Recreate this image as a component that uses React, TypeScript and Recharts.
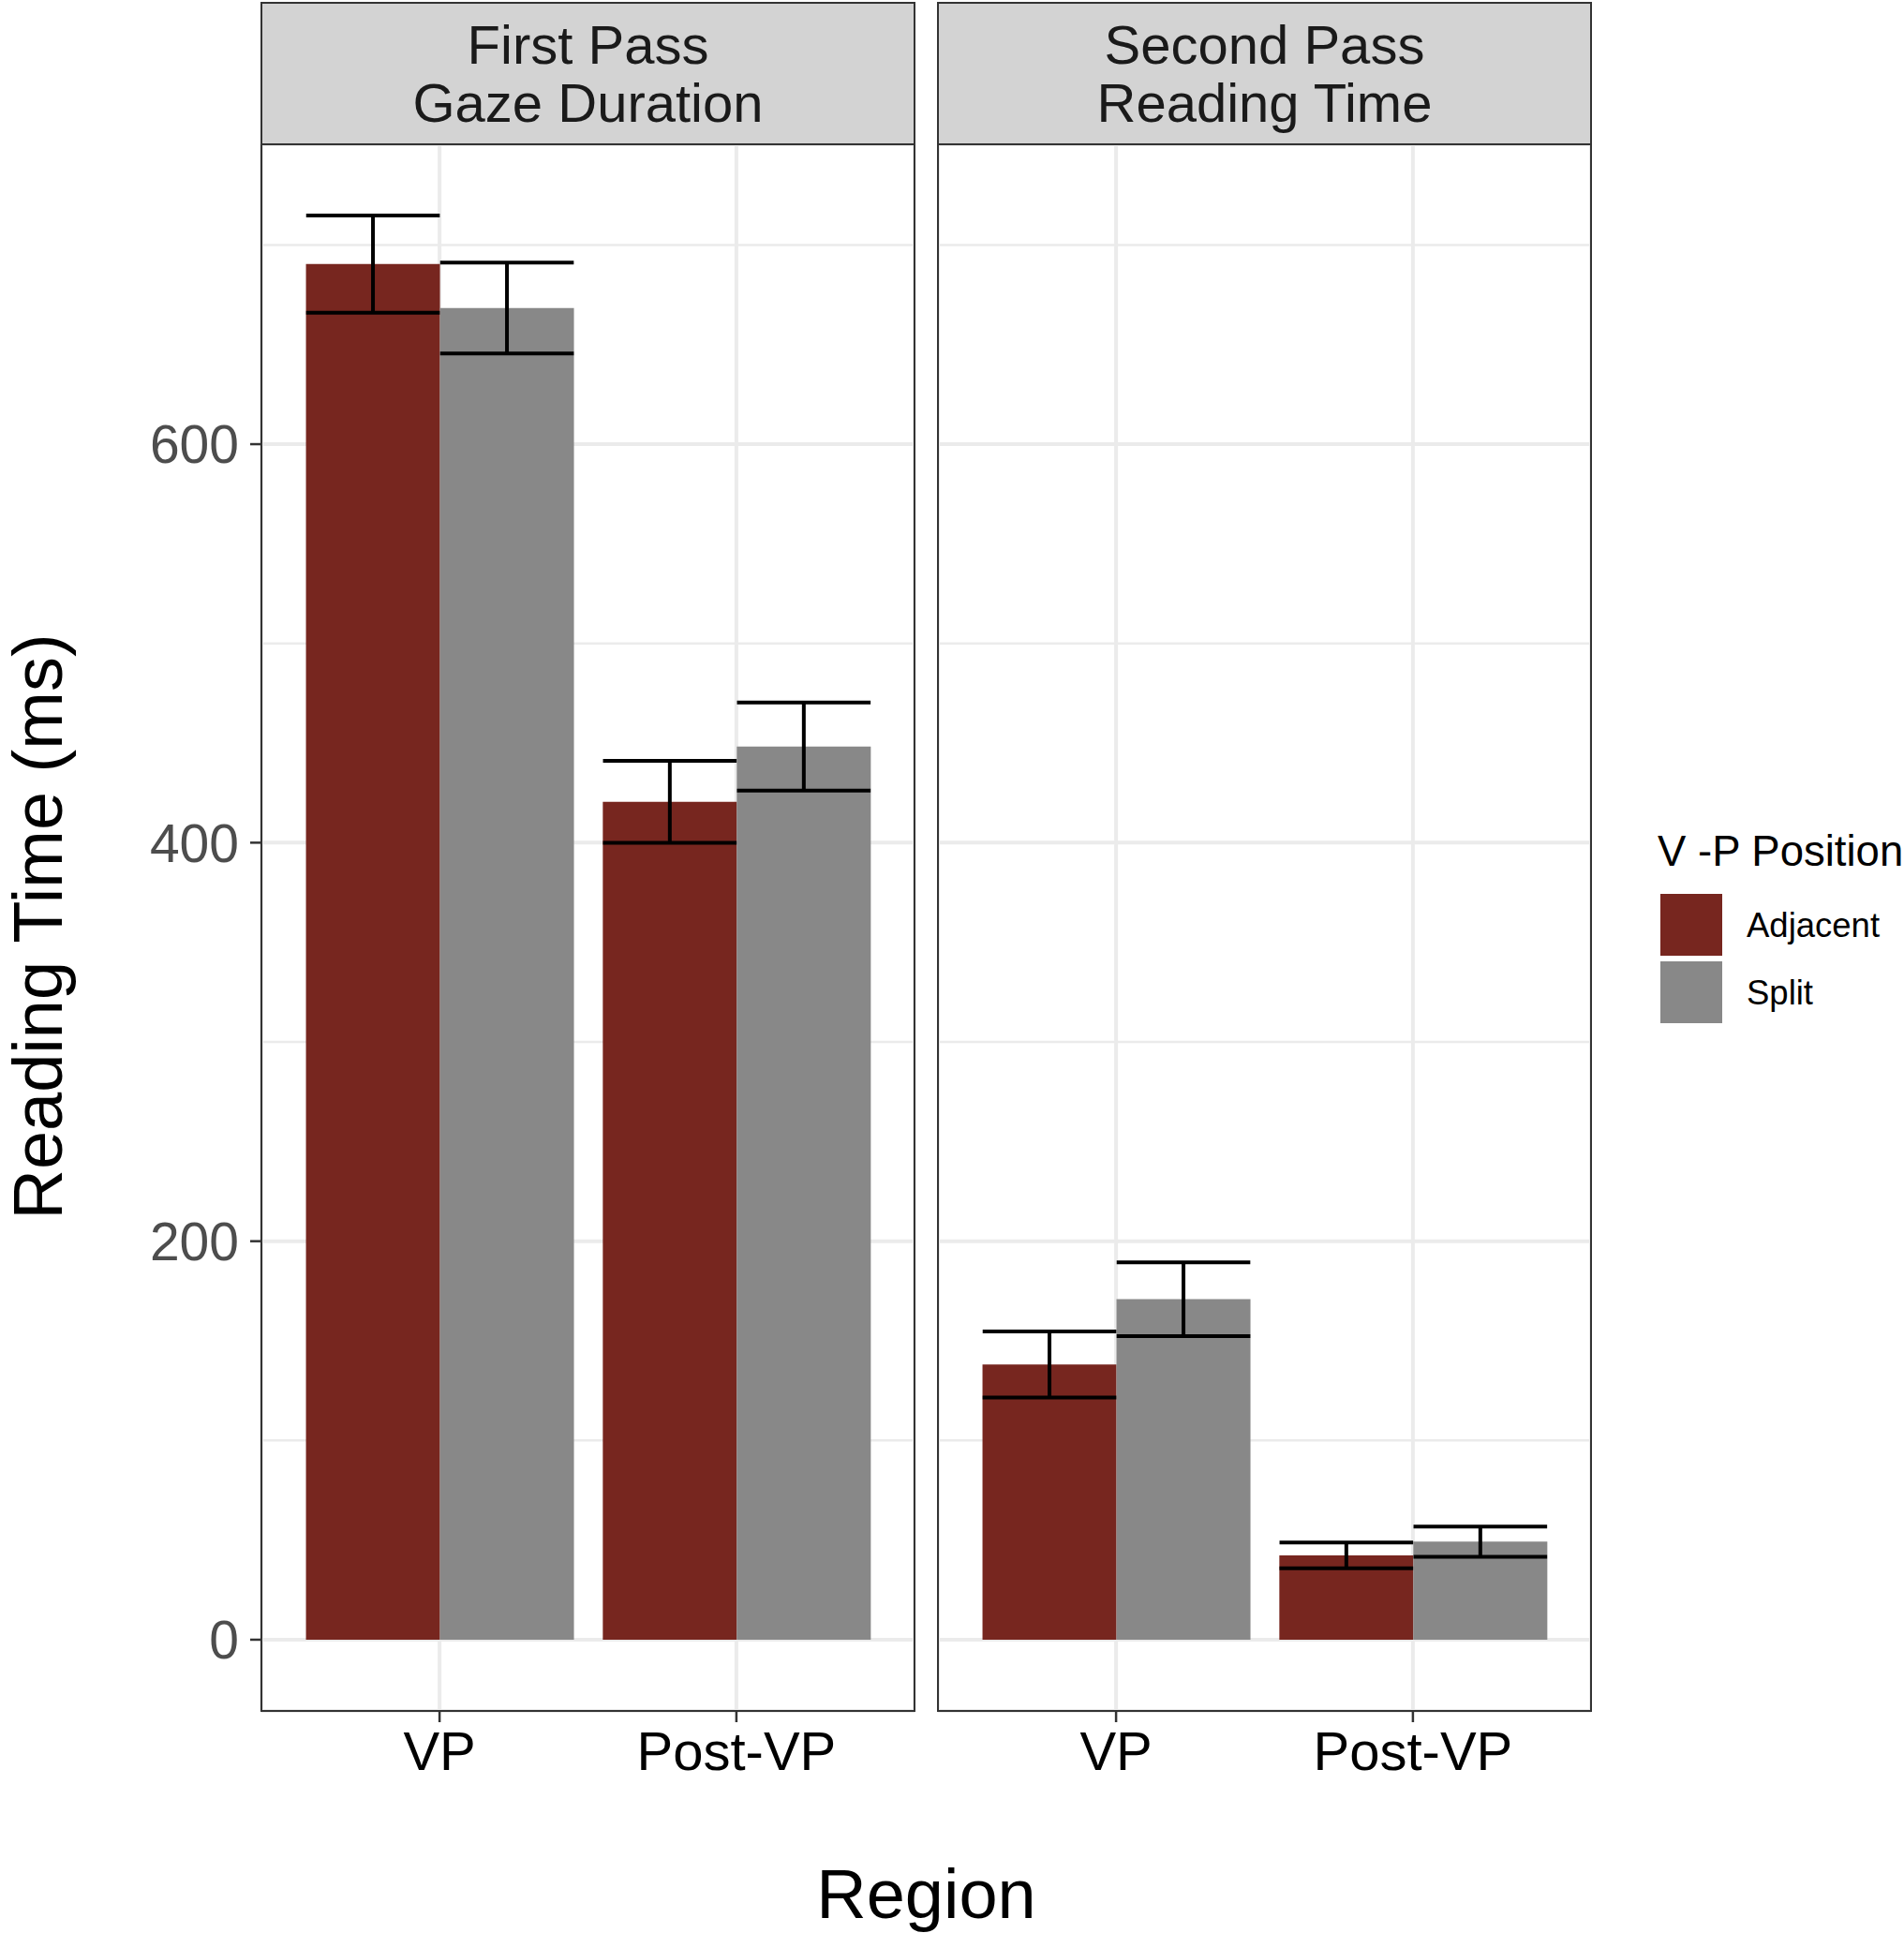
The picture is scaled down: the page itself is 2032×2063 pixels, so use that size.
import { Bar, BarChart, CartesianGrid, ErrorBar, XAxis, YAxis } from "recharts";

const regions = ["VP", "Post-VP"];
const groupNames = ["Adjacent", "Split"];
const groupColors = ["#77261F", "#888888"];

const firstPassAdjacent = [690.4, 420.5];
const firstPassAdjacentSe = [24.4, 20.6];
const firstPassSplit = [668.3, 448.3];
const firstPassSplitSe = [22.8, 22.1];

const secondPassAdjacent = [138.1, 42.3];
const secondPassAdjacentSe = [16.6, 6.5];
const secondPassSplit = [170.9, 49.2];
const secondPassSplitSe = [18.5, 7.6];

const majorTicks = [0, 200, 400, 600];
const minorTicks = [100, 300, 500, 700];
const yDomain = [-35.75, 750.5];

const font = '"Liberation Sans", Arial, sans-serif';

function rows(adj: number[], adjSe: number[], split: number[], splitSe: number[]) {
  return regions.map((region, i) => ({
    region,
    adjacent: adj[i],
    adjacentSe: adjSe[i],
    split: split[i],
    splitSe: splitSe[i],
  }));
}

const panels = [
  { title: ["First Pass", "Gaze Duration"], data: rows(firstPassAdjacent, firstPassAdjacentSe, firstPassSplit, firstPassSplitSe) },
  { title: ["Second Pass", "Reading Time"], data: rows(secondPassAdjacent, secondPassAdjacentSe, secondPassSplit, secondPassSplitSe) },
];

const PLOT_W = 697;
const PLOT_H = 1672;
const PLOT_TOP = 154;
const Y_AXIS_W = 279;
const panelLefts = [279, 1001];

function Panel({ data, left, showY }: { data: any[]; left: number; showY: boolean }) {
  const w = PLOT_W + (showY ? Y_AXIS_W : 0);
  return (
    <div style={{ position: "absolute", left: left - (showY ? Y_AXIS_W : 0), top: PLOT_TOP }}>
      <BarChart
        width={w}
        height={PLOT_H + 100}
        data={data}
        margin={{ top: 0, right: 0, bottom: 0, left: 0 }}
        barCategoryGap="5%"
        barGap={0}
      >
        <YAxis yAxisId="minor" hide type="number" domain={yDomain} ticks={minorTicks} allowDataOverflow />
        <CartesianGrid yAxisId="minor" vertical={false} stroke="#EBEBEB" strokeWidth={2.5} />
        <CartesianGrid stroke="#EBEBEB" strokeWidth={4} />
        <XAxis
          dataKey="region"
          type="category"
          interval={0}
          padding={{ left: 31.7, right: 31.7 }}
          height={100}
          axisLine={false}
          tickSize={12}
          tickMargin={10}
          tickLine={{ stroke: "#333333", strokeWidth: 2.5 }}
          tick={{ fontSize: 58, fill: "#000000", fontFamily: font }}
        />
        <YAxis
          type="number"
          domain={yDomain}
          ticks={majorTicks}
          allowDataOverflow
          hide={!showY}
          width={Y_AXIS_W}
          axisLine={false}
          tickSize={12}
          tickMargin={12}
          tickLine={{ stroke: "#333333", strokeWidth: 2.5 }}
          tick={{ fontSize: 57, fill: "#4D4D4D", fontFamily: font }}
        />
        <Bar dataKey="adjacent" name={groupNames[0]} fill={groupColors[0]} isAnimationActive={false}>
          <ErrorBar dataKey="adjacentSe" direction="y" width={71.3} stroke="#000000" strokeWidth={4} />
        </Bar>
        <Bar dataKey="split" name={groupNames[1]} fill={groupColors[1]} isAnimationActive={false}>
          <ErrorBar dataKey="splitSe" direction="y" width={71.3} stroke="#000000" strokeWidth={4} />
        </Bar>
      </BarChart>
    </div>
  );
}

export default function App() {
  return (
    <div style={{ position: "absolute", left: 0, top: 0, width: 2032, height: 2063, background: "#ffffff", fontFamily: font }}>
      <svg width={2032} height={2063} style={{ position: "absolute", left: 0, top: 0 }}>
        <text x={988.5} y={2047} textAnchor="middle" fontSize={74} fill="#000000" fontFamily={font}>
          Region
        </text>
        <text transform="translate(66,989) rotate(-90)" textAnchor="middle" fontSize={74} fill="#000000" fontFamily={font}>
          Reading Time (ms)
        </text>
        <text x={1769} y={924} fontSize={45.5} fill="#000000" fontFamily={font}>
          V -P Position
        </text>
        {groupNames.map((name, i) => (
          <g key={name}>
            <rect x={1772} y={954 + i * 72} width={66} height={66} fill={groupColors[i]} />
            <text x={1864} y={1000 + i * 72} fontSize={36.5} fill="#000000" fontFamily={font}>
              {name}
            </text>
          </g>
        ))}
      </svg>
      {panels.map((p, i) => (
        <Panel key={i} data={p.data} left={panelLefts[i]} showY={i === 0} />
      ))}
      {panels.map((p, i) => (
        <div key={"frame" + i}>
          <div
            style={{
              position: "absolute",
              left: panelLefts[i] - 1,
              top: 2,
              width: PLOT_W + 2,
              height: PLOT_TOP - 1,
              boxSizing: "border-box",
              border: "2px solid #333333",
              background: "#D3D3D3",
              display: "flex",
              flexDirection: "column",
              justifyContent: "center",
              alignItems: "center",
              fontSize: 58,
              lineHeight: "62px",
              color: "#1A1A1A",
            }}
          >
            {p.title.map((t) => (
              <div key={t}>{t}</div>
            ))}
          </div>
          <div
            style={{
              position: "absolute",
              left: panelLefts[i] - 1,
              top: PLOT_TOP - 1,
              width: PLOT_W + 2,
              height: PLOT_H + 2,
              boxSizing: "border-box",
              border: "2px solid #333333",
              pointerEvents: "none",
            }}
          />
        </div>
      ))}
    </div>
  );
}
